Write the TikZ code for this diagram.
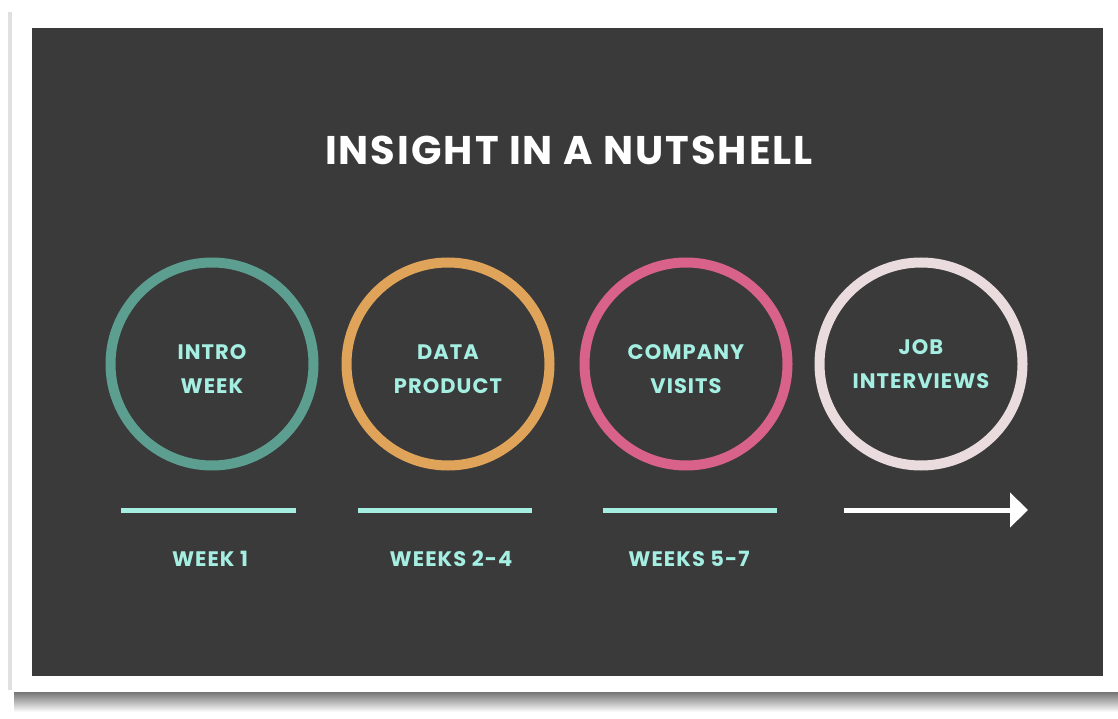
\documentclass[tikz,border=0pt]{standalone}
\usepackage{fontspec}
\setmainfont{Poppins}[LetterSpace=5]
\usetikzlibrary{arrows.meta,positioning}

\definecolor{slate}{HTML}{3A3A3A}
\definecolor{mint}{HTML}{A4EEE2}
\definecolor{teal}{HTML}{5C9E8F}
\definecolor{sand}{HTML}{DFA45A}
\definecolor{rose}{HTML}{D8628A}
\definecolor{blush}{HTML}{EADCDE}

\begin{document}
\begin{tikzpicture}[x=1pt, y=-1pt,
    ring/.style={circle, draw, line width=10pt, minimum size=203pt},
    stage/.style={align=center, text=mint, font=\bfseries\fontsize{21}{34}\selectfont},
    bar/.style={mint, line width=5pt},
    when/.style={text=mint, font=\bfseries\fontsize{21}{25}\selectfont}]
  % Card and its shadow
  \useasboundingbox (0,0) rectangle (1118,719);
  \fill[white] (0,0) rectangle (1118,719);
  \shade[top color=black!60, bottom color=white] (14,690) rectangle (1118,712);
  \fill[black!12] (8,12) rectangle (13,690);
  \fill[white] (12,8) rectangle (1118,692);
  \fill[slate] (32,28) rectangle (1103,676);

  % Title
  \node[text=white, font=\bfseries\fontsize{40}{42}\selectfont] (title) at (569,150) {INSIGHT IN A NUTSHELL};

  % Stages
  \node[ring, draw=teal, label={[stage, yshift=-5pt]center:INTRO\\WEEK}] (intro) at (212,364) {};
  \node[ring, draw=sand, label={[stage, yshift=-5pt]center:DATA\\PRODUCT}] (data) at (448,364) {};
  \node[ring, draw=rose, label={[stage, yshift=-5pt]center:COMPANY\\VISITS}] (visits) at (686,364) {};
  \node[ring, draw=blush, label={[stage, yshift=0pt]center:JOB\\INTERVIEWS}] (jobs) at (921,364) {};

  % Time bars
  \coordinate (bar1w) at (121,510); \coordinate (bar1e) at (296,510);
  \coordinate (bar2w) at (358,510); \coordinate (bar2e) at (532,510);
  \coordinate (bar3w) at (603,510); \coordinate (bar3e) at (777,510);
  \coordinate (bar4w) at (844,510); \coordinate (bar4e) at (1028,510);
  \draw[bar] (bar1w) -- (bar1e);
  \draw[bar] (bar2w) -- (bar2e);
  \draw[bar] (bar3w) -- (bar3e);
  \draw[white, line width=5pt, -{Triangle[length=18pt, width=34pt]}] (bar4w) -- (bar4e);

  % Week labels
  \node[when] (week1) at (210,559) {WEEK 1};
  \node[when] (week2) at (451,559) {WEEKS 2-4};
  \node[when] (week3) at (689,559) {WEEKS 5-7};
\end{tikzpicture}
\end{document}
